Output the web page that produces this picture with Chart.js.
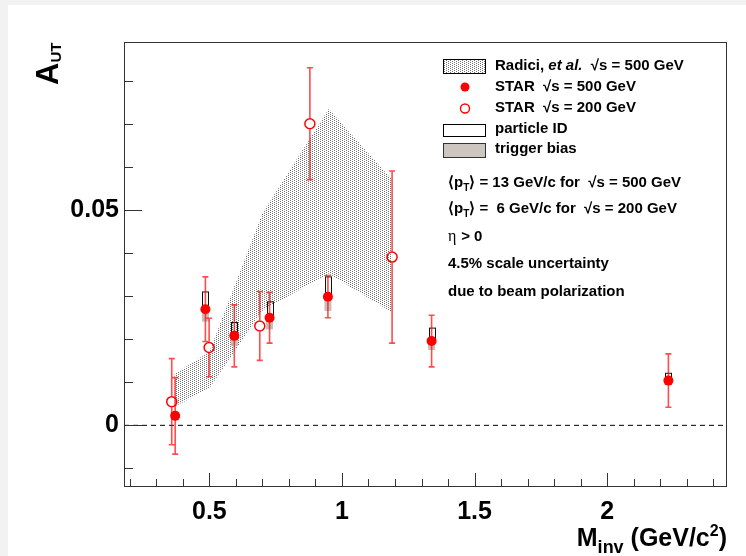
<!DOCTYPE html>
<html>
<head>
<meta charset="utf-8">
<script src="https://cdn.jsdelivr.net/npm/chart.js@4.4.1/dist/chart.umd.min.js"></script>
<style>
html, body { margin: 0; padding: 0; background: #f2f2f2; }
#wrap { position: absolute; left: 8px; top: 5px; width: 738px; height: 551px; background: #fff; }
</style>
</head>
<body>
<div id="wrap"><canvas id="c" width="738" height="551"></canvas></div>
<script>
// STAR 500 GeV (filled points)
const x500 = [0.371, 0.485, 0.594, 0.727, 0.947, 1.338, 2.231];
const y500 = [0.0022, 0.0270, 0.0208, 0.0250, 0.0299, 0.0196, 0.0104];
const err500 = [0.0089, 0.0075, 0.0072, 0.0059, 0.0049, 0.0060, 0.0062];
const pid500 = [0.0004, 0.0040, 0.0031, 0.0037, 0.0046, 0.0030, 0.0017];   // particle ID (up)
const trig500 = [0.0004, 0.0029, 0.0023, 0.0027, 0.0033, 0.0021, 0.0010];  // trigger bias (down)

// STAR 200 GeV (open points)
const x200 = [0.358, 0.499, 0.690, 0.879, 1.189];
const y200 = [0.0055, 0.0181, 0.0231, 0.0701, 0.0391];
const err200 = [0.0100, 0.0068, 0.0080, 0.0130, 0.0200];

// Radici et al. band
const bandX = [0.368, 0.50, 0.70, 0.95, 1.19];
const bandHi = [0.0119, 0.0171, 0.0493, 0.0735, 0.0570];
const bandLo = [0.0043, 0.0086, 0.0267, 0.0353, 0.0262];

const xMin = 0.178, xMax = 2.452;
const yMin = -0.0141, yMax = 0.0891;

const FONT = '"Liberation Sans", Arial, Helvetica, sans-serif';
const RED = '#ff0000';

function dotPattern() {
  const c = document.createElement('canvas');
  c.width = 4; c.height = 4;
  const g = c.getContext('2d');
  g.fillStyle = '#707070';
  g.fillRect(0, 0, 1, 1);
  g.fillRect(2, 1, 1, 1);
  g.fillRect(0, 2, 1, 1);
  g.fillRect(2, 3, 1, 1);
  return g.createPattern(c, 'repeat');
}
const dots = dotPattern();

const pts = (xs, ys) => xs.map((x, i) => ({ x: x, y: ys[i] }));

// draws text pieces one after another: [text, size, style, dy, family]
function runs(ctx, x, y, parts, align) {
  const f = p => (p[2] || 'normal') + ' bold ' + p[1] + 'px ' + (p[4] || FONT);
  let w = 0;
  parts.forEach(p => { ctx.font = f(p); w += ctx.measureText(p[0]).width; });
  let cx = align === 'right' ? x - w : x;
  parts.forEach(p => {
    ctx.font = f(p);
    ctx.fillText(p[0], cx, y + (p[3] || 0));
    cx += ctx.measureText(p[0]).width;
  });
}

const decor = {
  id: 'decor',
  beforeDatasetDraw(chart, args) {
    if (args.index !== 3) return;
    const ctx = chart.ctx, xs = chart.scales.x, ys = chart.scales.y;
    ctx.save();
    // systematic boxes
    x500.forEach((xv, i) => {
      const px = xs.getPixelForValue(xv);
      const cy = ys.getPixelForValue(y500[i]);
      const lo = ys.getPixelForValue(y500[i] - trig500[i]);
      const hi = ys.getPixelForValue(y500[i] + pid500[i]);
      ctx.fillStyle = '#c4bfba';
      ctx.fillRect(px - 3.5, cy, 7, lo - cy);
      ctx.strokeStyle = '#111';
      ctx.lineWidth = 1;
      ctx.strokeRect(Math.round(px - 3) + 0.5, hi, 6, cy - hi);
    });
    // error bars
    const bar = (xv, yv, ev, gap) => {
      const px = xs.getPixelForValue(xv);
      const cy = ys.getPixelForValue(yv);
      const t = ys.getPixelForValue(yv + ev);
      const b = ys.getPixelForValue(yv - ev);
      ctx.beginPath();
      ctx.moveTo(px, t); ctx.lineTo(px, cy - gap);
      ctx.moveTo(px, cy + gap); ctx.lineTo(px, b);
      ctx.moveTo(px - 3, t); ctx.lineTo(px + 3, t);
      ctx.moveTo(px - 3, b); ctx.lineTo(px + 3, b);
      ctx.stroke();
    };
    ctx.strokeStyle = 'rgba(255,0,0,0.7)';
    ctx.lineWidth = 1.6;
    x500.forEach((xv, i) => bar(xv, y500[i], err500[i], 0));
    x200.forEach((xv, i) => bar(xv, y200[i], err200[i], 5.6));
    ctx.restore();
  },
  afterDraw(chart) {
    const ctx = chart.ctx, a = chart.chartArea;
    const xs = chart.scales.x, ys = chart.scales.y;
    const L = Math.round(a.left), R = Math.round(a.right);
    const T = Math.round(a.top), B = Math.round(a.bottom);
    ctx.save();
    // frame
    ctx.strokeStyle = '#333';
    ctx.lineWidth = 1;
    ctx.strokeRect(L + 0.5, T + 0.5, R - L - 1, B - T);
    // inward ticks
    ctx.beginPath();
    xs.ticks.forEach(t => {
      const p = Math.round(xs.getPixelForValue(t.value)) + 0.5;
      const len = t.label ? 13 : 7;
      ctx.moveTo(p, B); ctx.lineTo(p, B - len);
    });
    ys.ticks.forEach(t => {
      const p = Math.round(ys.getPixelForValue(t.value)) + 0.5;
      const len = t.label ? 18 : 9;
      ctx.moveTo(L, p); ctx.lineTo(L + len, p);
    });
    ctx.stroke();

    ctx.fillStyle = '#000';
    ctx.textBaseline = 'alphabetic';
    // axis titles
    runs(ctx, 719, 541, [['M', 25], ['inv', 18, 'normal', 7], [' (GeV/c', 25], ['2', 16, 'normal', -10], [')', 25]], 'right');
    ctx.save();
    ctx.translate(50, 80);
    ctx.rotate(-Math.PI / 2);
    runs(ctx, 0, 0, [['A', 31], ['UT', 15, 'normal', 3]]);
    ctx.restore();

    // legend
    ctx.lineWidth = 1;
    ctx.strokeStyle = '#000';
    ctx.fillStyle = dots;
    ctx.fillRect(435.5, 54.5, 42, 14);
    ctx.strokeRect(435.5, 54.5, 42, 14);
    ctx.fillStyle = '#fff';
    ctx.fillRect(435.5, 119.5, 42, 12);
    ctx.strokeRect(435.5, 119.5, 42, 12);
    ctx.fillStyle = '#cdc6c0';
    ctx.fillRect(435.5, 138.5, 42, 14);
    ctx.strokeStyle = '#333';
    ctx.strokeRect(435.5, 138.5, 42, 14);
    ctx.fillStyle = RED;
    ctx.beginPath(); ctx.arc(457, 82, 4.5, 0, Math.PI * 2); ctx.fill();
    ctx.strokeStyle = RED; ctx.lineWidth = 1.4;
    ctx.beginPath(); ctx.arc(457, 103.5, 4.5, 0, Math.PI * 2); ctx.stroke();

    ctx.fillStyle = '#000';
    runs(ctx, 487, 65, [['Radici, ', 15], ['et al.', 15, 'italic'], ['  \u221As = 500 GeV', 15]]);
    runs(ctx, 487, 85.7, [['STAR  \u221As = 500 GeV', 15]]);
    runs(ctx, 487, 107.3, [['STAR  \u221As = 200 GeV', 15]]);
    runs(ctx, 487, 128.3, [['particle ID', 15]]);
    runs(ctx, 487, 148.3, [['trigger bias', 15]]);

    runs(ctx, 440, 181.7, [['\u27E8p', 15], ['T', 10, 'normal', 4], ['\u27E9 = 13 GeV/c for  \u221As = 500 GeV', 15]]);
    runs(ctx, 440, 207.7, [['\u27E8p', 15], ['T', 10, 'normal', 4], ['\u27E9 =  6 GeV/c for  \u221As = 200 GeV', 15]]);
    ctx.font = '16px "Liberation Serif", serif';
    ctx.fillText('\u03B7', 440, 235.7);
    runs(ctx, 449, 235.7, [[' > 0', 15]]);
    runs(ctx, 440, 263.3, [['4.5% scale uncertainty', 15]]);
    runs(ctx, 440, 291, [['due to beam polarization', 15]]);
    ctx.restore();
  }
};

new Chart(document.getElementById('c'), {
  type: 'scatter',
  data: {
    datasets: [
      { label: 'zero', data: [{ x: xMin, y: 0 }, { x: xMax, y: 0 }], showLine: true,
        borderColor: '#000', borderWidth: 1, borderDash: [5, 4], pointRadius: 0, order: 5 },
      { label: 'Radici hi', data: pts(bandX, bandHi), showLine: true, borderColor: 'rgba(0,0,0,0)',
        borderWidth: 0, pointRadius: 0, fill: '+1', backgroundColor: dots, order: 4 },
      { label: 'Radici lo', data: pts(bandX, bandLo), showLine: true, borderColor: 'rgba(0,0,0,0)',
        borderWidth: 0, pointRadius: 0, fill: false, order: 4 },
      { label: 'STAR 200', data: pts(x200, y200), pointRadius: 5, pointBorderWidth: 1.5,
        pointBorderColor: RED, pointBackgroundColor: 'rgba(0,0,0,0)', order: 1 },
      { label: 'STAR 500', data: pts(x500, y500), pointRadius: 5, pointBorderWidth: 0,
        pointBorderColor: RED, pointBackgroundColor: RED, order: 0 }
    ]
  },
  options: {
    responsive: false,
    animation: false,
    layout: { padding: { left: 0, top: 37, right: 19, bottom: 0 } },
    plugins: { legend: { display: false }, tooltip: { enabled: false } },
    scales: {
      x: {
        type: 'linear', min: xMin, max: xMax,
        grid: { display: false, drawTicks: false },
        border: { display: false },
        afterFit: s => { s.height = 70; },
        ticks: {
          stepSize: 0.1, includeBounds: false, autoSkip: false, maxRotation: 0, padding: 11,
          color: '#000', font: { family: FONT, size: 25, weight: 'bold' },
          callback: v => Math.abs(v * 2 - Math.round(v * 2)) < 1e-6 ? String(+v.toFixed(1)) : ''
        }
      },
      y: {
        type: 'linear', min: yMin, max: yMax,
        grid: { display: false, drawTicks: false },
        border: { display: false },
        afterFit: s => { s.width = 116; },
        ticks: {
          stepSize: 0.01, includeBounds: false, autoSkip: false, padding: 5,
          color: '#000', font: { family: FONT, size: 25, weight: 'bold' },
          callback: v => Math.abs(v / 0.05 - Math.round(v / 0.05)) < 1e-6 ? (Math.abs(v) < 1e-9 ? '0' : v.toFixed(2)) : ''
        }
      }
    }
  },
  plugins: [decor]
});
</script>
</body>
</html>
